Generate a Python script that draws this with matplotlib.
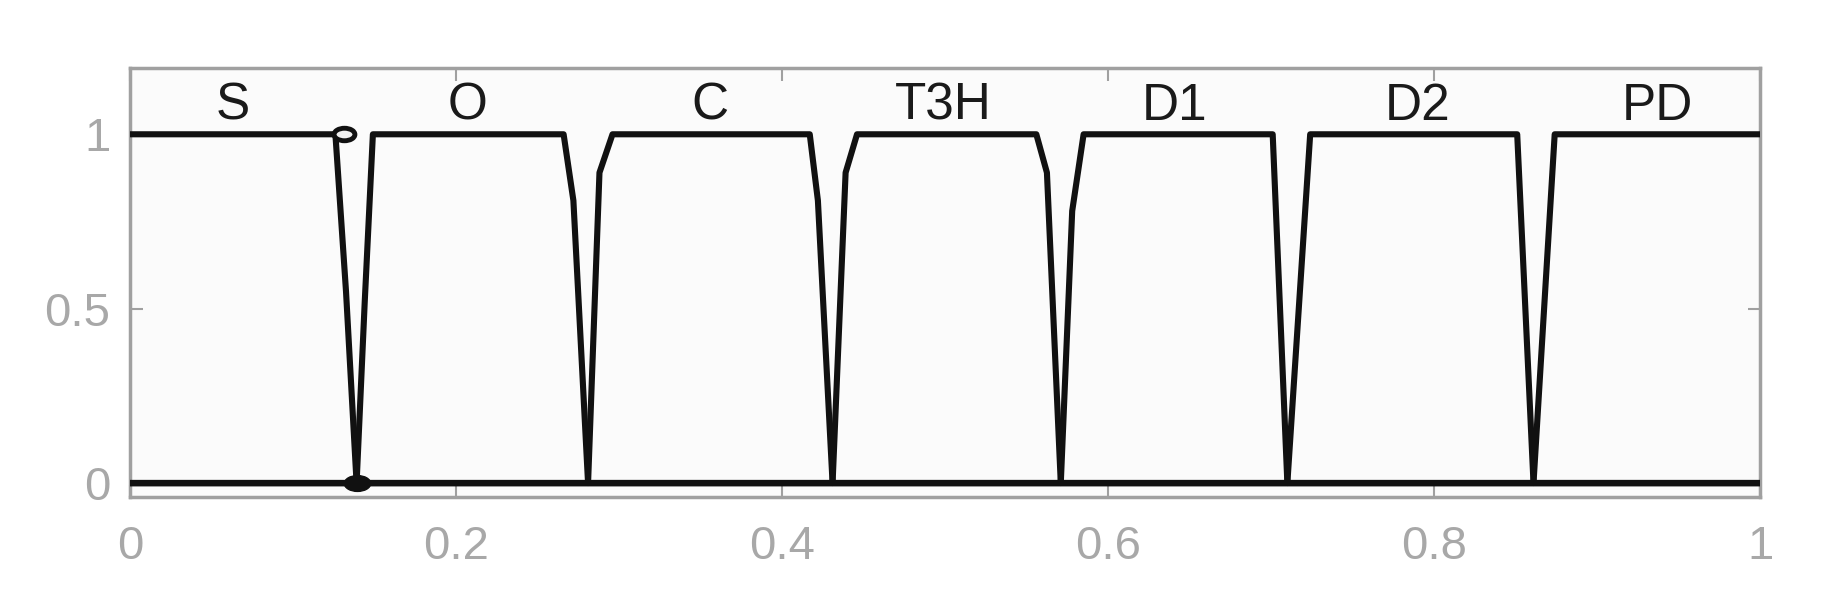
import matplotlib
matplotlib.use("Agg")
import matplotlib.pyplot as plt
from matplotlib import font_manager
from matplotlib.path import Path
from matplotlib.transforms import Affine2D

# ---- data ----
class_names = ["S", "O", "C", "T3H", "D1", "D2", "PD"]
label_x = [0.063, 0.207, 0.356, 0.499, 0.641, 0.790, 0.937]
label_y = 1.08

S_x = [0.0, 0.126, 0.1325, 0.139, 1.0]
S_y = [1, 1, 0.55, 0, 0]
O_x = [0.0, 0.139, 0.144, 0.149, 0.266, 0.272, 0.281, 1.0]
O_y = [0, 0, 0.52, 1, 1, 0.81, 0, 0]
C_x = [0.0, 0.281, 0.288, 0.296, 0.417, 0.422, 0.431, 1.0]
C_y = [0, 0, 0.89, 1, 1, 0.81, 0, 0]
T3H_x = [0.0, 0.431, 0.439, 0.446, 0.556, 0.5625, 0.571, 1.0]
T3H_y = [0, 0, 0.89, 1, 1, 0.89, 0, 0]
D1_x = [0.0, 0.571, 0.578, 0.585, 0.701, 0.710, 1.0]
D1_y = [0, 0, 0.78, 1, 1, 0, 0]
D2_x = [0.0, 0.710, 0.724, 0.851, 0.861, 1.0]
D2_y = [0, 0, 1, 1, 0, 0]
PD_x = [0.0, 0.861, 0.874, 1.0]
PD_y = [0, 0, 1, 1]

series = [(S_x, S_y), (O_x, O_y), (C_x, C_y), (T3H_x, T3H_y),
          (D1_x, D1_y), (D2_x, D2_y), (PD_x, PD_y)]

open_marker = (0.131, 1.0)
filled_marker = (0.139, 0.0)

x_ticks = [0, 0.2, 0.4, 0.6, 0.8, 1]
x_ticklabels = ["0", "0.2", "0.4", "0.6", "0.8", "1"]
y_ticks = [0, 0.5, 1]
y_ticklabels = ["0", "0.5", "1"]

# ---- fonts ----
def pick(names):
    for n in names:
        try:
            font_manager.findfont(n, fallback_to_default=False)
            return n
        except Exception:
            pass
    return "DejaVu Sans"

tick_font = pick(["Liberation Sans Narrow", "DejaVu Sans Condensed", "Liberation Sans"])
label_font = pick(["Liberation Sans", "DejaVu Sans"])

ellipse = Path.unit_circle().transformed(Affine2D().scale(1.0, 0.6))

fig = plt.figure(figsize=(18.26, 6.15), dpi=100)
ax = fig.add_axes([0.0712, 0.1919, 0.8927, 0.6975])
ax.set_facecolor("#fbfbfb")

for xs, ys in series:
    ax.plot(xs, ys, color="#111111", lw=4.4, solid_joinstyle="round",
            solid_capstyle="butt", zorder=3)

ax.plot([open_marker[0]], [open_marker[1]], marker=ellipse, ms=15, mfc="#f0f0f0",
        mec="#111111", mew=3.5, zorder=4)
ax.plot([filled_marker[0]], [filled_marker[1]], marker=ellipse, ms=19,
        mfc="#111111", mec="#111111", zorder=4)

for name, lx in zip(class_names, label_x):
    ax.text(lx, label_y, name, ha="center", va="center", fontsize=37,
            family=label_font, color="#1a1a1a")

ax.set_xlim(0, 1)
ax.set_ylim(-0.04, 1.19)
ax.set_xticks(x_ticks)
ax.set_xticklabels(x_ticklabels)
ax.set_yticks(y_ticks)
ax.set_yticklabels(y_ticklabels)

for sp in ax.spines.values():
    sp.set_color("#a0a0a0")
    sp.set_linewidth(2.5)

ax.tick_params(axis="both", direction="in", length=9, width=1.5,
               color="#a0a0a0", labelcolor="#a8a8a8", labelsize=34,
               top=True, right=True)
ax.tick_params(axis="x", pad=20)
ax.tick_params(axis="y", pad=14)
for lab in ax.get_xticklabels() + ax.get_yticklabels():
    lab.set_family(tick_font)

fig.savefig("out.png", dpi=100, facecolor="white")
